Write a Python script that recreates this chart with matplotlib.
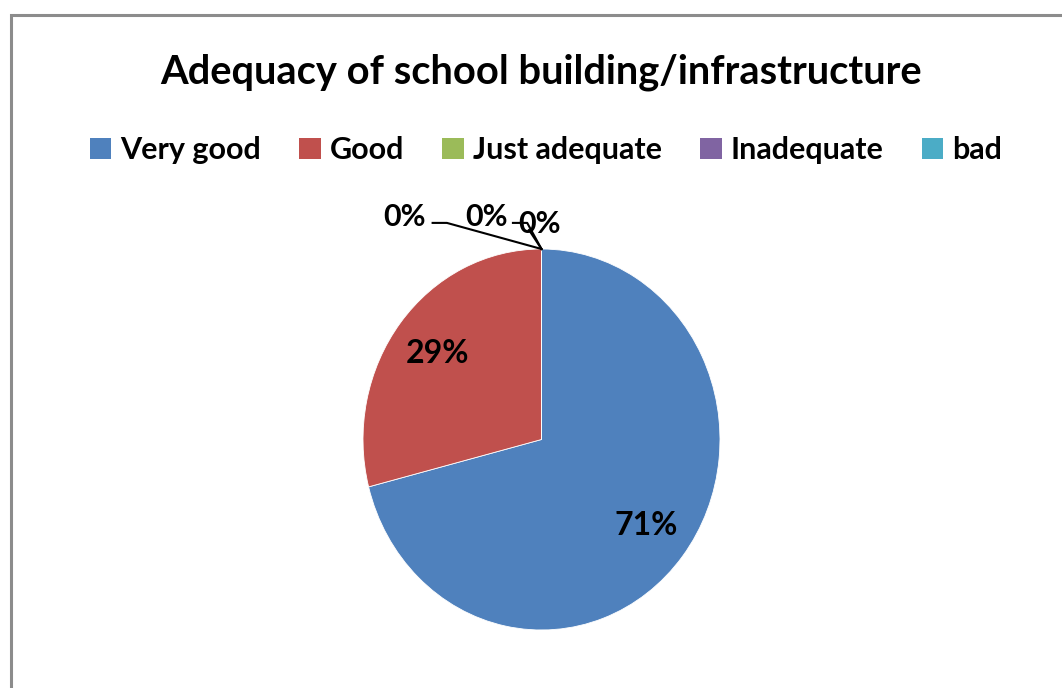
import matplotlib.pyplot as plt
from matplotlib.patches import Rectangle, Patch
import numpy as np

plt.rcParams['font.family'] = ['Lato', 'DejaVu Sans']

categories = ['Very good', 'Good', 'Just adequate', 'Inadequate', 'bad']
values = [71, 29, 0, 0, 0]
colors = ['#4F81BD', '#C0504D', '#9BBB59', '#8064A2', '#4BACC6']

# where the labels of the empty slices sit (axes data units)
zero_label_pos = [(-0.77, 1.17), (-0.31, 1.17), (-0.01, 1.13)]
zero_line_start = [(-0.61, 1.137), (-0.16, 1.137), (-0.07, 1.10)]

fig = plt.figure(figsize=(10.62, 6.88), dpi=100)
W, H = 1062, 688

# chart frame
fig.patches.append(Rectangle((10.5 / W, -0.1), 1.2, (688 - 15.5) / H + 0.1,
                             transform=fig.transFigure, fill=False,
                             edgecolor='#8c8c8c', linewidth=2.2))

ax = fig.add_axes([363 / W, (H - 630) / H, 357 / W, 381 / H])
wedges, _ = ax.pie(values, colors=colors, startangle=90, counterclock=False,
                   radius=1, wedgeprops=dict(linewidth=0.6, edgecolor='white'))
ax.set_aspect('auto')
ax.set_xlim(-1, 1)
ax.set_ylim(-1, 1)
ax.axis('off')

total = sum(values)
zi = 0
for w, v in zip(wedges, values):
    mid = np.deg2rad((w.theta1 + w.theta2) / 2)
    if v > 0:
        r = 0.74
        ax.text(r * np.cos(mid), r * np.sin(mid), f'{v / total:.0%}',
                ha='center', va='center', fontsize=23, fontweight='bold',
                color='black')
    else:
        # leader line from label to the slice edge on the rim
        ax_pt = (np.cos(mid), np.sin(mid))
        lx, ly = zero_label_pos[zi]
        sx, sy = zero_line_start[zi]
        pts = [(sx, sy)]
        if zi < 2:
            pts.append((sx + 0.08, sy))
        pts.append(ax_pt)
        xs, ys = zip(*pts)
        ax.plot(xs, ys, color='black', linewidth=1.5, clip_on=False)
        ax.text(lx, ly, f'{v / total:.0%}', ha='center', va='center',
                fontsize=22, fontweight='bold', color='black', clip_on=False)
        zi += 1

fig.text(541 / W, 1 - 72 / H, 'Adequacy of school building/infrastructure',
         ha='center', va='center', fontsize=28.7, fontweight='bold')

handles = [Patch(facecolor=c, edgecolor='none') for c in colors]
fig.legend(handles, categories, loc='center', bbox_to_anchor=(546 / W, 1 - 150 / H),
           ncol=5, frameon=False,
           prop=dict(weight='bold', size=22), handlelength=0.7, handleheight=0.7,
           handletextpad=0.3, columnspacing=1.25)

fig.savefig('out.png', dpi=100)
